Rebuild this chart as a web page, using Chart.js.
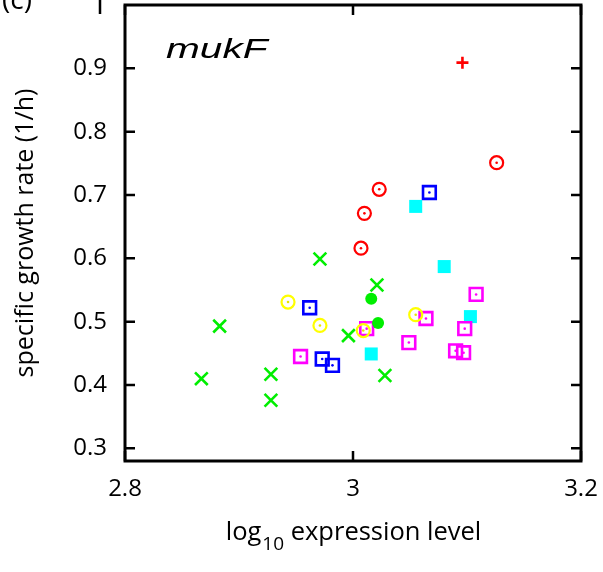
<!DOCTYPE html>
<html>
<head>
<meta charset="utf-8">
<script src="https://cdn.jsdelivr.net/npm/chart.js"></script>
<style>
  body { margin: 0; background: #fff; }
  #wrap { width: 603px; height: 572px; }
</style>
</head>
<body>
<div id="wrap"><canvas id="mukf-chart" width="603" height="572"></canvas></div>
<script>
// axis ticks
const xTicks = [2.8, 3.0, 3.2];
const xTickLabels = ['2.8', '3', '3.2'];
const yTicks = [0.3, 0.4, 0.5, 0.6, 0.7, 0.8, 0.9];

// log10 expression level / specific growth rate, per marker type
const redPlusX = [3.096];
const redPlusY = [0.909];
const redCircleX = [3.007, 3.010, 3.023, 3.126];
const redCircleY = [0.616, 0.671, 0.709, 0.751];
const blueSquareX = [3.067, 2.962, 2.973, 2.982];
const blueSquareY = [0.704, 0.522, 0.441, 0.431];
const cyanSquareX = [3.055, 3.080, 3.016, 3.103];
const cyanSquareY = [0.682, 0.587, 0.449, 0.508];
const yellowCircleX = [2.943, 2.971, 3.009, 3.055];
const yellowCircleY = [0.531, 0.494, 0.486, 0.511];
const magentaSquareX = [2.954, 3.012, 3.064, 3.049, 3.108, 3.098, 3.090, 3.097];
const magentaSquareY = [0.445, 0.489, 0.505, 0.467, 0.543, 0.489, 0.454, 0.451];
const greenDotX = [3.016, 3.022];
const greenDotY = [0.536, 0.498];
const greenCrossX = [2.971, 3.021, 2.996, 3.028, 2.883, 2.867, 2.928, 2.928];
const greenCrossY = [0.599, 0.558, 0.478, 0.415, 0.493, 0.410, 0.417, 0.376];

function pts(xs, ys) {
    return xs.map(function(x, i) { return { x: x, y: ys[i] }; });
}

function marker(xs, ys, color, style, radius, border, filled) {
    return {
        data: pts(xs, ys),
        pointStyle: style,
        pointRadius: radius,
        pointHoverRadius: radius,
        pointBorderWidth: border,
        pointBorderColor: color,
        pointBackgroundColor: filled ? color : 'rgba(0,0,0,0)'
    };
}

// small centre dot for the open circle / square markers
function centre(xs, ys, color) {
    return marker(xs, ys, color, 'circle', 1.3, 0, true);
}

// first dataset is drawn on top
var datasets = [
    centre(yellowCircleX, yellowCircleY, '#e6e600'),
    marker(yellowCircleX, yellowCircleY, '#ffff00', 'circle', 6.5, 2.2, false),
    marker(greenDotX, greenDotY, '#00ee00', 'circle', 6, 0, true),
    centre(magentaSquareX, magentaSquareY, '#ff00ff'),
    marker(magentaSquareX, magentaSquareY, '#ff00ff', 'rect', 9, 2.6, false),
    marker(greenCrossX, greenCrossY, '#00ee00', 'crossRot', 9, 2.6, false),
    marker(cyanSquareX, cyanSquareY, '#00ffff', 'rect', 9.2, 0, true),
    centre(blueSquareX, blueSquareY, '#0000ff'),
    marker(blueSquareX, blueSquareY, '#0000ff', 'rect', 9, 2.6, false),
    centre(redCircleX, redCircleY, '#ff0000'),
    marker(redCircleX, redCircleY, '#ff0000', 'circle', 6.5, 2.2, false),
    marker(redPlusX, redPlusY, '#ff0000', 'cross', 6, 2.6, false)
];

// frame, inward ticks, x title with subscript, gene name
const framePlugin = {
    id: 'frame',
    afterDraw: function(chart) {
        var ctx = chart.ctx, a = chart.chartArea;
        var xs = chart.scales.x, ys = chart.scales.y;
        ctx.save();
        ctx.strokeStyle = '#000';
        ctx.lineWidth = 3;
        ctx.strokeRect(a.left, a.top, a.right - a.left, a.bottom - a.top);
        ctx.lineWidth = 2.5;
        ctx.beginPath();
        yTicks.forEach(function(v) {
            var y = ys.getPixelForValue(v);
            ctx.moveTo(a.left, y); ctx.lineTo(a.left + 10, y);
            ctx.moveTo(a.right, y); ctx.lineTo(a.right - 10, y);
        });
        xTicks.forEach(function(v) {
            var x = xs.getPixelForValue(v);
            ctx.moveTo(x, a.bottom); ctx.lineTo(x, a.bottom - 10);
            ctx.moveTo(x, a.top); ctx.lineTo(x, a.top + 10);
        });
        // leftover tick of the neighbouring panel
        ctx.moveTo(100, 0); ctx.lineTo(100, 14);
        ctx.stroke();

        ctx.fillStyle = '#000';
        ctx.textBaseline = 'alphabetic';
        ctx.textAlign = 'left';
        ctx.font = '28px "Open Sans"';
        ctx.fillText('(c)', 2, 9);

        // x axis title
        var big = '25.5px "Open Sans"', small = '19px "Open Sans"';
        var t1 = 'log', t2 = '10', t3 = ' expression level';
        ctx.font = big; var w1 = ctx.measureText(t1).width, w3 = ctx.measureText(t3).width;
        ctx.font = small; var w2 = ctx.measureText(t2).width;
        var cx = (a.left + a.right) / 2;
        var x0 = cx - (w1 + w2 + w3) / 2;
        ctx.font = big; ctx.fillText(t1, x0, 540);
        ctx.font = small; ctx.fillText(t2, x0 + w1 + 1, 550);
        ctx.font = big; ctx.fillText(t3, x0 + w1 + w2 + 1, 540);

        // gene label, stretched like the original
        ctx.save();
        ctx.translate(166, 58);
        ctx.scale(1.45, 1);
        ctx.font = 'italic 28px "Liberation Sans"';
        ctx.fillText('mukF', 0, 0);
        ctx.restore();
        ctx.restore();
    }
};

var chart = new Chart(document.getElementById('mukf-chart').getContext('2d'), {
    type: 'scatter',
    data: { datasets: datasets },
    options: {
        responsive: false,
        animation: false,
        events: [],
        layout: { autoPadding: false, padding: { top: 5, right: 22, left: 0, bottom: 0 } },
        plugins: {
            legend: { display: false },
            tooltip: { enabled: false }
        },
        scales: {
            x: {
                type: 'linear',
                min: 2.8,
                max: 3.2,
                grid: { display: false, drawTicks: false },
                border: { display: false },
                afterBuildTicks: function(scale) {
                    scale.ticks = xTicks.map(function(v) { return { value: v }; });
                },
                afterFit: function(scale) {
                    scale.height = 111;
                    scale.paddingLeft = 0;
                    scale.paddingRight = 0;
                },
                ticks: {
                    padding: 14,
                    color: '#000',
                    font: { family: 'Open Sans', size: 24 },
                    callback: function(v) {
                        var i = xTicks.indexOf(v);
                        return i >= 0 ? xTickLabels[i] : '';
                    }
                }
            },
            y: {
                type: 'linear',
                min: 0.28,
                max: 1.0,
                grid: { display: false, drawTicks: false },
                border: { display: false },
                afterBuildTicks: function(scale) {
                    scale.ticks = yTicks.map(function(v) { return { value: v }; });
                },
                afterFit: function(scale) {
                    scale.width = 125;
                    scale.paddingTop = 0;
                    scale.paddingBottom = 0;
                },
                title: {
                    display: true,
                    text: 'specific growth rate (1/h)',
                    color: '#000',
                    font: { family: 'Open Sans', size: 25 },
                    padding: { top: 11, bottom: 0 }
                },
                ticks: {
                    padding: 18,
                    color: '#000',
                    font: { family: 'Open Sans', size: 24 },
                    callback: function(v) { return v.toFixed(1); }
                }
            }
        }
    },
    plugins: [framePlugin]
});
</script>
</body>
</html>
